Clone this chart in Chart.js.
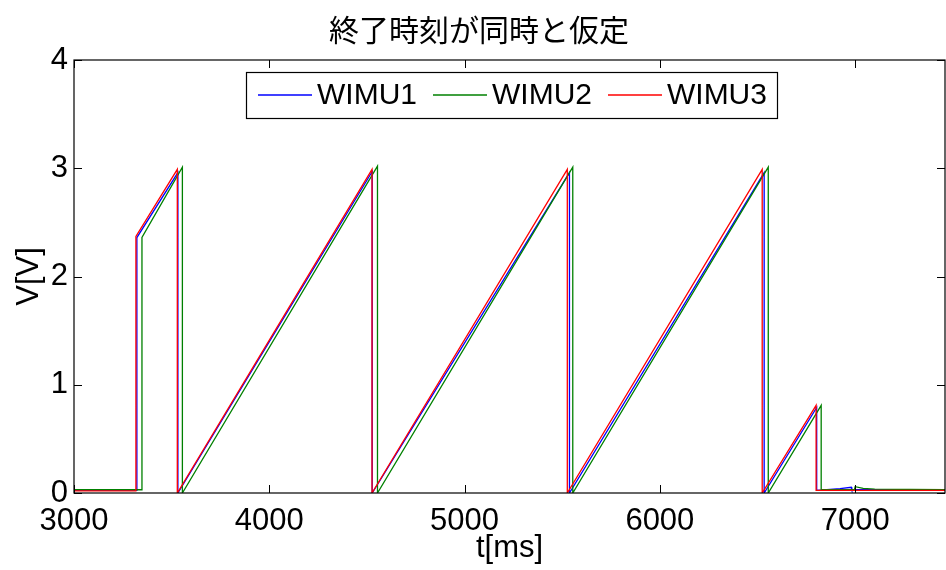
<!DOCTYPE html>
<html>
<head>
<meta charset="utf-8">
<script src="https://cdn.jsdelivr.net/npm/chart.js@4/dist/chart.umd.min.js"></script>
<style>
  html, body { margin: 0; padding: 0; background: #ffffff; }
  #wrap { width: 946px; height: 570px; position: relative; }
</style>
</head>
<body>
<div id="wrap"><canvas id="c" width="946" height="570"></canvas></div>
<script>
// Sawtooth voltage traces of three WIMU units (vertices of each trace)
const wimu1T = [3000, 3322, 3322, 3532, 3532, 4527, 4527, 5537, 5537, 6534, 6534, 6803, 6803, 6923, 6980, 6983, 7460];
const wimu1V = [0.025, 0.025, 2.36, 2.96, 0.0, 2.97, 0.0, 2.96, 0.0, 2.96, 0.0, 0.79, 0.025, 0.04, 0.053, 0.03, 0.03];

const wimu2T = [3000, 3348, 3348, 3555, 3555, 4554, 4554, 5554, 5554, 6555, 6555, 6826, 6826, 6996, 7000, 7041, 7100, 7460];
const wimu2V = [0.03, 0.03, 2.36, 3.01, 0.0, 3.02, 0.0, 3.01, 0.0, 3.01, 0.0, 0.81, 0.03, 0.03, 0.058, 0.043, 0.035, 0.03];

const wimu3T = [3000, 3317, 3317, 3529, 3529, 4526, 4526, 5526, 5526, 6524, 6524, 6800, 6800, 7460];
const wimu3V = [0.02, 0.02, 2.37, 2.99, 0.0, 2.99, 0.0, 2.99, 0.0, 2.99, 0.0, 0.81, 0.025, 0.025];

const seriesNames = ['WIMU1', 'WIMU2', 'WIMU3'];
const seriesColors = ['#0000ff', '#008000', '#ff0000'];

const xTicks = [3000, 4000, 5000, 6000, 7000];
const yTicks = [0, 1, 2, 3, 4];

const titleText = '終了時刻が同時と仮定';
const xLabel = 't[ms]';
const yLabel = 'V[V]';

function toPoints(ts, vs) {
  return ts.map((t, i) => ({ x: t, y: vs[i] }));
}

const traces = [
  toPoints(wimu1T, wimu1V),
  toPoints(wimu2T, wimu2V),
  toPoints(wimu3T, wimu3V)
];

const LATIN = '"Liberation Sans", Arial, sans-serif';

// Axes box with inward tick marks on all four sides
const boxPlugin = {
  id: 'boxTicks',
  afterDraw(chart) {
    const { ctx, chartArea: a, scales } = chart;
    const len = 8;
    ctx.save();
    ctx.strokeStyle = '#000000';
    ctx.lineWidth = 1.2;
    ctx.strokeRect(a.left, a.top, a.right - a.left, a.bottom - a.top);
    ctx.lineWidth = 1;
    ctx.beginPath();
    scales.x.ticks.forEach(t => {
      const px = Math.round(scales.x.getPixelForValue(t.value)) + 0.5;
      ctx.moveTo(px, a.bottom); ctx.lineTo(px, a.bottom - len);
      ctx.moveTo(px, a.top); ctx.lineTo(px, a.top + len);
    });
    scales.y.ticks.forEach(t => {
      const py = Math.round(scales.y.getPixelForValue(t.value)) + 0.5;
      ctx.moveTo(a.left, py); ctx.lineTo(a.left + len, py);
      ctx.moveTo(a.right, py); ctx.lineTo(a.right - len, py);
    });
    ctx.stroke();
    ctx.restore();
  }
};

// Boxed legend laid out in one row inside the plot
const legendPlugin = {
  id: 'boxLegend',
  afterDraw(chart) {
    const { ctx } = chart;
    const box = { left: 246, top: 72, right: 777, bottom: 118 };
    const cy = Math.round((box.top + box.bottom) / 2);
    const sampleLen = 54;
    const gapAfterSample = 5;
    const gapBetween = 16;
    ctx.save();
    ctx.fillStyle = '#ffffff';
    ctx.fillRect(box.left, box.top, box.right - box.left, box.bottom - box.top);
    ctx.strokeStyle = '#000000';
    ctx.lineWidth = 1.2;
    ctx.strokeRect(box.left + 0.5, box.top + 0.5, box.right - box.left, box.bottom - box.top);
    ctx.font = '30px ' + LATIN;
    ctx.textBaseline = 'middle';
    ctx.textAlign = 'left';
    let x = box.left + 12;
    seriesNames.forEach((name, i) => {
      ctx.beginPath();
      ctx.strokeStyle = seriesColors[i];
      ctx.lineWidth = 1.5;
      ctx.moveTo(x, cy);
      ctx.lineTo(x + sampleLen, cy);
      ctx.stroke();
      x += sampleLen + gapAfterSample;
      ctx.fillStyle = '#000000';
      ctx.fillText(name, x, cy + 1);
      x += ctx.measureText(name).width + gapBetween;
    });
    ctx.restore();
  }
};

// Title centred slightly right of the canvas middle
const titlePlugin = {
  id: 'plotTitle',
  afterDraw(chart) {
    const { ctx } = chart;
    ctx.save();
    ctx.fillStyle = '#000000';
    ctx.font = '30px "Noto Sans CJK JP", sans-serif';
    ctx.textAlign = 'center';
    ctx.textBaseline = 'middle';
    ctx.fillText(titleText, 479, 30);
    ctx.restore();
  }
};

new Chart(document.getElementById('c'), {
  type: 'line',
  data: {
    datasets: traces.map((pts, i) => ({
      label: seriesNames[i],
      data: pts,
      borderColor: seriesColors[i],
      backgroundColor: seriesColors[i],
      borderWidth: 1.3,
      pointRadius: 0,
      tension: 0,
      fill: false,
      order: 3 - i
    }))
  },
  options: {
    responsive: false,
    animation: false,
    layout: { padding: { top: 60, right: 1, bottom: 0, left: 0 } },
    plugins: {
      legend: { display: false },
      tooltip: { enabled: false },
      title: { display: false }
    },
    scales: {
      x: {
        type: 'linear',
        min: 3000,
        max: 7460,
        afterBuildTicks(scale) { scale.ticks = xTicks.map(v => ({ value: v })); },
        afterFit(scale) { scale.height = 77; },
        grid: { display: false, drawTicks: false },
        border: { display: false },
        ticks: {
          color: '#000000',
          font: { family: LATIN, size: 31 },
          padding: 10,
          maxRotation: 0,
          autoSkip: false,
          callback: v => String(v)
        },
        title: {
          display: true,
          text: xLabel,
          color: '#000000',
          font: { family: LATIN, size: 31 },
          padding: { top: 0, bottom: 3 }
        }
      },
      y: {
        type: 'linear',
        min: 0,
        max: 4,
        afterBuildTicks(scale) { scale.ticks = yTicks.map(v => ({ value: v })); },
        afterFit(scale) { scale.width = 74; },
        grid: { display: false, drawTicks: false },
        border: { display: false },
        ticks: {
          color: '#000000',
          font: { family: LATIN, size: 31 },
          padding: 6,
          callback: v => String(v)
        },
        title: {
          display: true,
          text: yLabel,
          color: '#000000',
          font: { family: LATIN, size: 31 },
          padding: { top: 11, bottom: 0 }
        }
      }
    }
  },
  plugins: [boxPlugin, legendPlugin, titlePlugin]
});
</script>
</body>
</html>
